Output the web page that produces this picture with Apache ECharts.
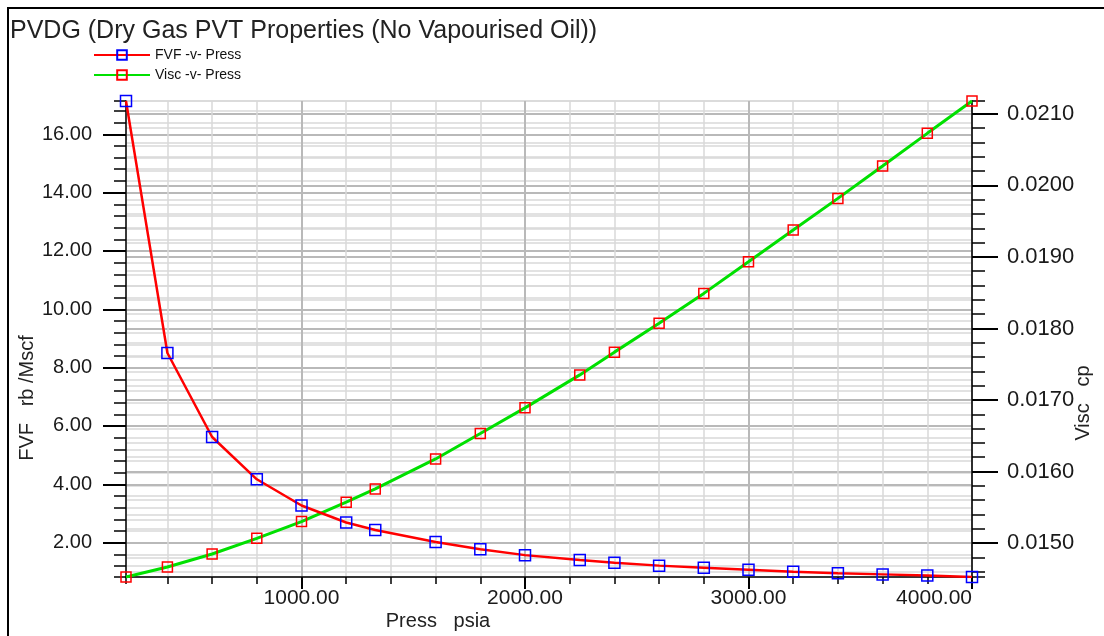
<!DOCTYPE html>
<html><head><meta charset="utf-8">
<script src="https://cdn.jsdelivr.net/npm/echarts@6/dist/echarts.min.js"></script>
<style>html,body{margin:0;padding:0;background:#fff}#c{width:1104px;height:636px}</style>
</head><body><div id="c"></div>
<script>
const titleText = 'PVDG (Dry Gas PVT Properties (No Vapourised Oil))';
const seriesNames = ['FVF -v- Press', 'Visc -v- Press'];
const axisNames = ['Press   psia', 'FVF   rb /Mscf', 'Visc   cp'];
const pressure = [214.7, 400, 600, 800, 1000, 1200, 1330, 1600, 1800, 2000, 2245, 2400, 2600, 2800, 3000, 3200, 3400, 3600, 3800, 4000];
const fvf = [17.14, 8.50, 5.62, 4.17, 3.27, 2.69, 2.43, 2.02, 1.77, 1.57, 1.40, 1.31, 1.21, 1.14, 1.07, 1.00, 0.95, 0.91, 0.87, 0.82];
const visc = [0.014526, 0.014666, 0.014848, 0.015067, 0.015301, 0.015571, 0.015757, 0.016176, 0.016531, 0.016890, 0.017351, 0.017669, 0.018074, 0.018490, 0.018931, 0.019375, 0.019818, 0.020270, 0.020727, 0.021179];
const xMajorTicks = [1000, 2000, 3000, 4000];
const fvfMajorTicks = [2, 4, 6, 8, 10, 12, 14, 16];
const viscMajorTicks = [0.015, 0.016, 0.017, 0.018, 0.019, 0.020, 0.021];

const xMin = Math.min(...pressure), xMax = Math.max(...pressure);
const fMin = Math.min(...fvf), fMax = Math.max(...fvf);
const vMin = Math.min(...visc), vMax = Math.max(...visc);

const FONT = 'Liberation Sans';
const black = '#000';
const minorGrid = '#d9d9d9';
const majorGrid = '#b9b9b9';

function minorAxis(pos, mn, mx, step, tickLen) {
  return {
    type: 'value', position: pos, min: mn, max: mx, minInterval: step, maxInterval: step,
    axisLine: { show: true, onZero: false, lineStyle: { color: black, width: 1.5 } },
    axisTick: { show: true, length: tickLen, lineStyle: { color: black, width: 1.5 } },
    axisLabel: { show: false },
    splitLine: { show: true, lineStyle: { color: minorGrid, width: 1.5 } }
  };
}
function majorAxis(pos, mn, mx, step, tickLen, custom, fmt, fs, margin) {
  return {
    type: 'value', position: pos, min: mn, max: mx, minInterval: step, maxInterval: step,
    axisLine: { show: false, onZero: false },
    axisTick: { show: true, length: tickLen, customValues: custom, lineStyle: { color: black, width: 2 } },
    axisLabel: { show: true, customValues: custom, formatter: fmt, fontSize: fs, fontFamily: FONT, color: '#1a1a1a', margin: margin, showMinLabel: true, showMaxLabel: true },
    splitLine: { show: true, lineStyle: { color: majorGrid, width: 2 } }
  };
}
function isMult(v, step) { const r = v / step; return Math.abs(r - Math.round(r)) < 1e-6; }

const chart = echarts.init(document.getElementById('c'), null, { renderer: 'canvas' });
const xMaj = majorAxis('bottom', xMin, xMax, 1000, 12, xMajorTicks, v => isMult(v, 1000) ? v.toFixed(2) : '', 21, 11);
xMaj.axisLabel.alignMaxLabel = 'right';
chart.setOption({
  animation: false,
  backgroundColor: '#fff',
  title: { text: titleText, left: 5, top: 14, textStyle: { fontSize: 25, fontWeight: 'normal', color: '#222', fontFamily: FONT } },
  legend: {
    orient: 'vertical', left: 88, top: 43, itemWidth: 56, itemHeight: 12, itemGap: 6,
    selectedMode: false, data: seriesNames,
    textStyle: { fontSize: 14, color: '#111', fontFamily: FONT }
  },
  grid: { left: 126, right: 132, top: 101, bottom: 59 },
  xAxis: [
    minorAxis('bottom', xMin, xMax, 200, 7),
    xMaj
  ],
  yAxis: [
    minorAxis('left', fMin, fMax, 0.4, 12),
    minorAxis('right', vMin, vMax, 0.0002, 13),
    majorAxis('left', fMin, fMax, 2, 23, fvfMajorTicks, v => isMult(v, 2) ? v.toFixed(2) : '', 20, 34),
    majorAxis('right', vMin, vMax, 0.001, 26, viscMajorTicks, v => isMult(v, 0.001) ? v.toFixed(4) : '', 22, 35)
  ],
  graphic: [
    { type: 'rect', z: -1, silent: true, shape: { x: 8, y: 8, width: 1200, height: 700 }, style: { fill: 'none', stroke: '#000', lineWidth: 2 } },
    { type: 'text', x: 438, y: 621, silent: true, style: { text: axisNames[0], fontSize: 20, fontFamily: FONT, fill: '#222', align: 'center', verticalAlign: 'middle' } },
    { type: 'text', x: 27, y: 398, rotation: Math.PI / 2, silent: true, style: { text: axisNames[1], fontSize: 20, fontFamily: FONT, fill: '#222', align: 'center', verticalAlign: 'middle' } },
    { type: 'text', x: 1083, y: 403, rotation: Math.PI / 2, silent: true, style: { text: axisNames[2], fontSize: 20, fontFamily: FONT, fill: '#222', align: 'center', verticalAlign: 'middle' } }
  ],
  series: [
    {
      name: seriesNames[0], type: 'line', xAxisIndex: 0, yAxisIndex: 0, z: 3,
      data: pressure.map((p, i) => [p, fvf[i]]),
      symbol: 'rect', symbolSize: 11,
      lineStyle: { color: '#ff0000', width: 2.5 },
      itemStyle: { color: 'rgba(255,255,255,0)', borderColor: '#0000ff', borderWidth: 1.5 }
    },
    {
      name: seriesNames[1], type: 'line', xAxisIndex: 0, yAxisIndex: 1, z: 2,
      data: pressure.map((p, i) => [p, visc[i]]),
      symbol: 'rect', symbolSize: 10,
      lineStyle: { color: '#00e000', width: 3 },
      itemStyle: { color: 'rgba(255,255,255,0)', borderColor: '#ff0000', borderWidth: 1.5 }
    }
  ]
});
</script></body></html>
